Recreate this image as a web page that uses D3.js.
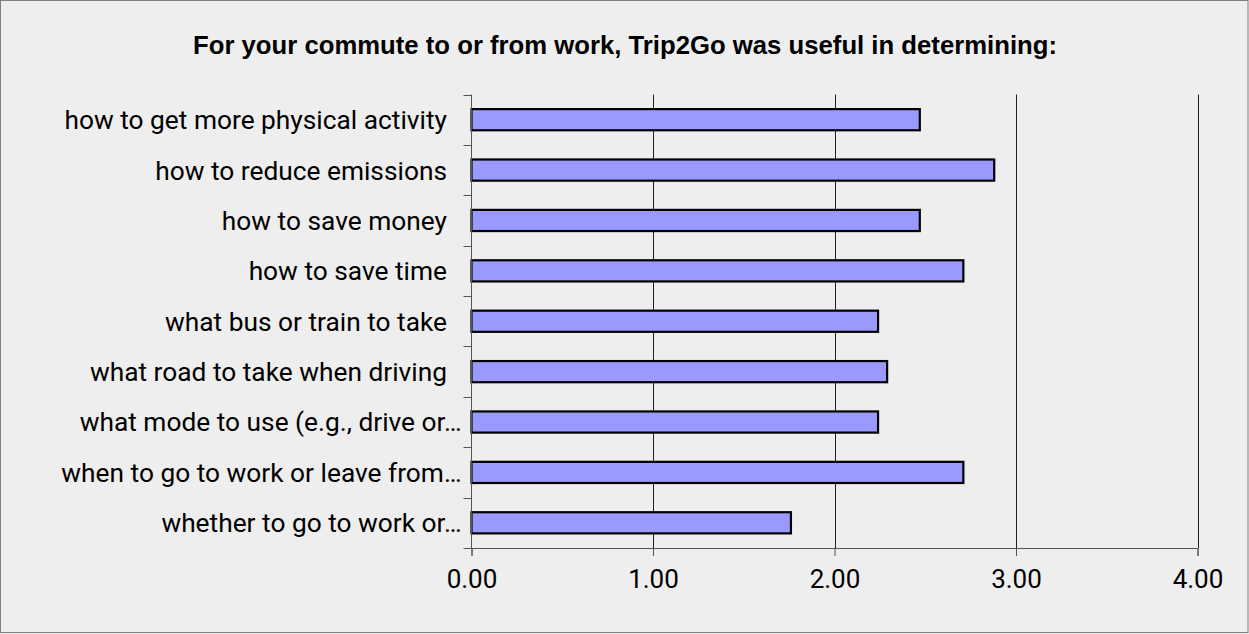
<!DOCTYPE html>
<html><head><meta charset="utf-8">
<script src="https://cdn.jsdelivr.net/npm/d3@7"></script>
<style>body{margin:0;background:#eeeeee}svg{display:block}</style>
</head><body>
<svg id="c" width="1249" height="634"></svg>
<script>
const title = "For your commute to or from work, Trip2Go was useful in determining:";
const categories = [
  "how to get more physical activity",
  "how to reduce emissions",
  "how to save money",
  "how to save time",
  "what bus or train to take",
  "what road to take when driving",
  "what mode to use (e.g., drive or…",
  "when to go to work or leave from…",
  "whether to go to work or…"
];
const values = [2.47, 2.88, 2.47, 2.71, 2.24, 2.29, 2.24, 2.71, 1.76];
const tickValues = [0, 1, 2, 3, 4];

const W = 1249, H = 634;
const m = {left: 471.5, right: 1197.5, top: 94.5, bottom: 548};
const svg = d3.select("#c");
const font = "Roboto, 'Liberation Sans', Arial, sans-serif";

svg.append("rect").attr("x", 0.5).attr("y", 0.5).attr("width", W - 1.5).attr("height", H - 2)
  .attr("fill", "#eeeeee").attr("stroke", "#808080").attr("stroke-width", 1);

svg.append("text").attr("x", 193).attr("y", 54)
  .attr("font-family", "'Liberation Sans', Arial, sans-serif").attr("font-size", 26).attr("font-weight", "bold").attr("fill", "#000")
  .attr("textLength", 864).attr("lengthAdjust", "spacingAndGlyphs")
  .text(title);

const x = d3.scaleLinear().domain([0, 4]).range([m.left, m.right]);
const y = d3.scaleBand().domain(categories).range([m.top, m.bottom]).paddingInner(0.58).paddingOuter(0.29);

// gridlines
svg.append("g").selectAll("line").data(tickValues.slice(1)).join("line")
  .attr("x1", d => Math.round(x(d)) + 0.5).attr("x2", d => Math.round(x(d)) + 0.5)
  .attr("y1", m.top).attr("y2", m.bottom)
  .attr("stroke", "#222").attr("stroke-width", 1);

// bars
svg.append("g").selectAll("rect").data(values).join("rect")
  .attr("x", x(0)).attr("y", (d, i) => y(categories[i]))
  .attr("width", d => x(d) - x(0)).attr("height", y.bandwidth())
  .attr("fill", "#9999ff").attr("stroke", "#000").attr("stroke-width", 2.2);

// y axis
const yAxis = svg.append("g").attr("transform", `translate(${m.left},0)`);
yAxis.append("line").attr("x1", 0).attr("x2", 0).attr("y1", m.top).attr("y2", m.bottom).attr("stroke", "#555");
const bounds = d3.range(categories.length + 1).map(i => m.top + i * (m.bottom - m.top) / categories.length);
yAxis.selectAll("line.t").data(bounds).join("line").attr("class", "t")
  .attr("x1", -8).attr("x2", 0).attr("y1", d => Math.round(d) + 0.5).attr("y2", d => Math.round(d) + 0.5)
  .attr("stroke", "#555");
yAxis.selectAll("text").data(categories).join("text")
  .attr("x", d => d.endsWith("…") ? -10 : -24.5).attr("y", d => y(d) + y.bandwidth() / 2).attr("dy", "0.36em")
  .attr("text-anchor", "end").attr("font-family", font).attr("font-size", 26.3).attr("fill", "#000")
  .text(d => d);

// x axis
const xAxis = d3.axisBottom(x).tickValues(tickValues).tickFormat(d3.format(".2f")).tickSize(8).tickPadding(14);
const gx = svg.append("g").attr("transform", `translate(0,${m.bottom})`).call(xAxis);
gx.select(".domain").attr("stroke", "#555");
gx.selectAll(".tick line").attr("stroke", "#555");
gx.selectAll("text").attr("font-family", font).attr("font-size", 26).attr("fill", "#000");
</script>
</body></html>
